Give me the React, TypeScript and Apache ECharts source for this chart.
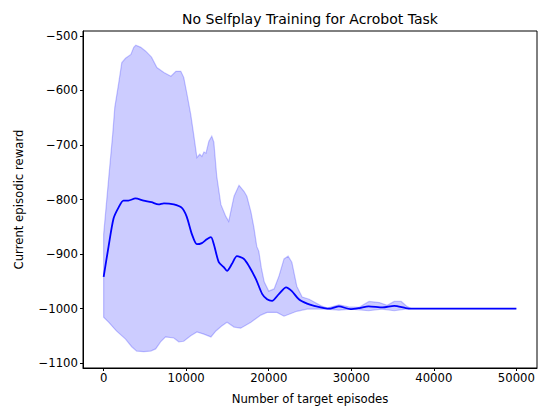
import React, { useEffect, useRef } from "react";
import * as echarts from "echarts";

const meanEpisodes = [0, 600, 1200, 1800, 2400, 3000, 3850, 4850, 5800, 6650, 7300, 8500, 9450, 10050, 10700, 11300, 11900, 12500, 13000, 13350, 13950, 14550, 14950, 15550, 16150, 17000, 17600, 18450, 19200, 19800, 20400, 21250, 22100, 22800, 23650, 24650, 25500, 26700, 27500, 28500, 29900, 31000, 32100, 33800, 35200, 36600, 37300, 50000];
const meanReward = [-942, -886, -835, -815, -802, -802, -798, -802, -805, -809, -807, -809, -815, -831, -864, -882, -880, -873, -869, -882, -915, -924, -931, -918, -904, -909, -922, -946, -973, -983, -986, -973, -961, -968, -983, -991, -995, -999, -1000, -996, -1001, -999, -996, -998, -995, -999, -1000, -1000];

const upperEpisodes = [0, 600, 1100, 1350, 1800, 2200, 2650, 3300, 3650, 3900, 4500, 5100, 5800, 6450, 7300, 8150, 8750, 9350, 9700, 10100, 10550, 10900, 11300, 11650, 11900, 12150, 12400, 12750, 13100, 13350, 13700, 14200, 14800, 15150, 15800, 16400, 17000, 17350, 17850, 18200, 18550, 18800, 19100, 19450, 20000, 20650, 21250, 21850, 22350, 22800, 23400, 24050, 24900, 25500, 26350, 27100, 28500, 29700, 30900, 32150, 33400, 34350, 35200, 36050, 36750, 37250, 50000];
const upperReward = [-864, -763, -680, -631, -589, -549, -541, -534, -521, -517, -521, -528, -539, -558, -567, -574, -565, -565, -576, -607, -644, -680, -723, -717, -721, -713, -715, -693, -684, -695, -757, -809, -831, -840, -794, -774, -785, -794, -823, -851, -886, -895, -925, -951, -968, -964, -940, -909, -904, -915, -959, -979, -983, -988, -995, -999, -993, -997, -998, -987, -989, -994, -987, -987, -996, -1000, -1000];

const lowerEpisodes = [0, 600, 1550, 2650, 3400, 4000, 4850, 5700, 6300, 6900, 7500, 8500, 9100, 9700, 10550, 11300, 12150, 13000, 13600, 14300, 14950, 15800, 16600, 17850, 19050, 19800, 21000, 21850, 22700, 23400, 24650, 27000, 28500, 30000, 32100, 33700, 35200, 36600, 37300, 50000];
const lowerReward = [-1016, -1025, -1041, -1056, -1070, -1078, -1079, -1078, -1074, -1061, -1052, -1054, -1061, -1060, -1050, -1043, -1047, -1052, -1041, -1032, -1025, -1034, -1036, -1025, -1012, -1007, -1007, -1014, -1009, -1005, -1001, -1001, -1003, -1001, -1004, -1001, -1004, -1001, -1000, -1000];

const xTicks = [0, 10000, 20000, 30000, 40000, 50000];
const yTicks = [-1100, -1000, -900, -800, -700, -600, -500];

const titleText = "No Selfplay Training for Acrobot Task";
const xLabel = "Number of target episodes";
const yLabel = "Current episodic reward";

const FONT = "DejaVu Sans";

export default function App() {
  const ref = useRef<HTMLDivElement>(null);
  useEffect(() => {
    if (!ref.current) return;
    const chart = echarts.init(ref.current, null, { renderer: "svg" });
    const fmt = (v: number) => String(v).replace("-", "\u2212");
    chart.setOption({
      animation: false,
      backgroundColor: "#ffffff",
      grid: {
        left: 83,
        right: 4,
        top: 31,
        bottom: 42,
        show: true,
        borderColor: "#000000",
        borderWidth: 1,
        backgroundColor: "transparent",
      },
      xAxis: {
        type: "value",
        min: -2500,
        max: 52500,
        splitLine: { show: false },
        axisLine: { show: true, onZero: false, lineStyle: { color: "#000", width: 1 } },
        axisTick: { show: true, customValues: xTicks, length: 3, lineStyle: { color: "#000" } },
        axisLabel: {
          customValues: xTicks,
          formatter: fmt,
          color: "#000",
          fontSize: 11.7,
          fontFamily: FONT,
          margin: 4,
        },
      },
      yAxis: {
        type: "value",
        min: -1109,
        max: -491,
        splitLine: { show: false },
        axisLine: { show: true, onZero: false, lineStyle: { color: "#000", width: 1 } },
        axisTick: { show: true, customValues: yTicks, length: 3, lineStyle: { color: "#000" } },
        axisLabel: {
          customValues: yTicks,
          formatter: fmt,
          color: "#000",
          fontSize: 11.7,
          fontFamily: FONT,
          margin: 5,
        },
      },
      graphic: [
        {
          type: "text",
          x: 310,
          y: 19,
          style: {
            text: titleText,
            fill: "#000",
            font: `14px "${FONT}"`,
            textAlign: "center",
            textVerticalAlign: "middle",
          },
        },
        {
          type: "text",
          x: 310,
          y: 399,
          style: {
            text: xLabel,
            fill: "#000",
            font: `11.7px "${FONT}"`,
            textAlign: "center",
            textVerticalAlign: "middle",
          },
        },
        {
          type: "text",
          x: 19,
          y: 199.5,
          rotation: Math.PI / 2,
          style: {
            text: yLabel,
            fill: "#000",
            font: `11.7px "${FONT}"`,
            textAlign: "center",
            textVerticalAlign: "middle",
          },
        },
      ],
      series: [
        {
          type: "custom",
          z: 2,
          silent: true,
          data: [[0, -1000]],
          encode: { x: 0, y: 1 },
          renderItem: (params: any, api: any) => {
            const pts: number[][] = [];
            for (let i = 0; i < upperEpisodes.length; i++) {
              pts.push(api.coord([upperEpisodes[i], upperReward[i]]));
            }
            for (let i = lowerEpisodes.length - 1; i >= 0; i--) {
              pts.push(api.coord([lowerEpisodes[i], lowerReward[i]]));
            }
            return {
              type: "polygon",
              shape: { points: pts },
              style: {
                fill: "rgba(0,0,255,0.2)",
                stroke: "rgba(0,0,255,0.22)",
                lineWidth: 1.2,
              },
            };
          },
        },
        {
          type: "line",
          z: 3,
          showSymbol: false,
          silent: true,
          smooth: 0.25,
          data: meanEpisodes.map((x, i) => [x, meanReward[i]]),
          lineStyle: { color: "#0000ff", width: 1.8 },
          itemStyle: { color: "#0000ff" },
        },
      ],
    });
    return () => chart.dispose();
  }, []);
  return (
    <div
      ref={ref}
      style={{ position: "fixed", left: 0, top: 0, width: 541, height: 410, background: "#fff" }}
    />
  );
}
